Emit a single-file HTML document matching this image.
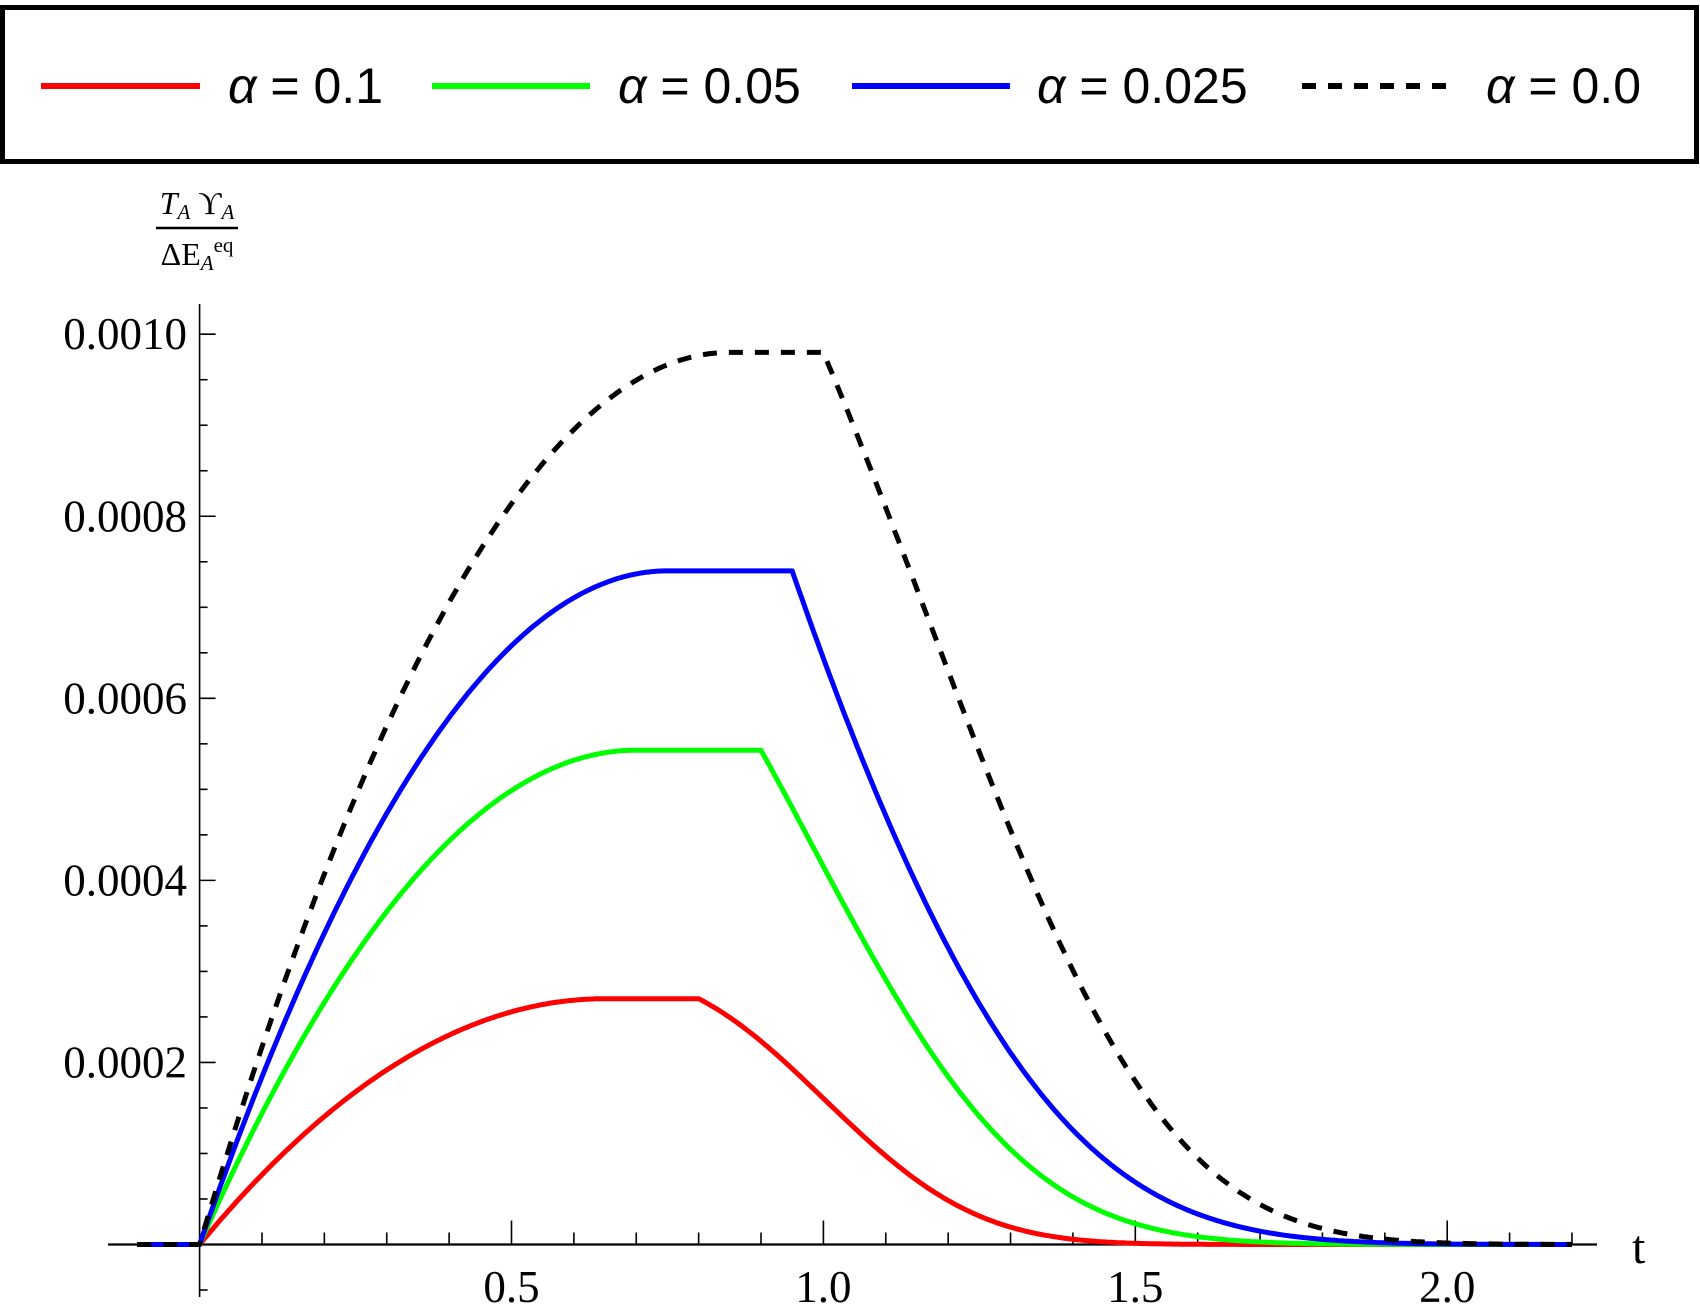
<!DOCTYPE html>
<html><head><meta charset="utf-8"><style>
html,body{margin:0;padding:0;background:#fff;}
svg{display:block;}
</style></head><body>
<svg id="s" width="1700" height="1315" viewBox="0 0 1700 1315" xmlns="http://www.w3.org/2000/svg">
<rect x="2.5" y="7.5" width="1694" height="154" fill="none" stroke="#000" stroke-width="5"/>
<g font-family="Liberation Sans, sans-serif" font-size="50">
<line x1="41" y1="86" x2="200" y2="86" stroke="#f00" stroke-width="6"/>
<text x="228" y="103"><tspan font-style="italic">α</tspan> = 0.1</text>
<line x1="432" y1="86" x2="590" y2="86" stroke="#0f0" stroke-width="6"/>
<text x="618" y="103"><tspan font-style="italic">α</tspan> = 0.05</text>
<line x1="852" y1="86" x2="1010" y2="86" stroke="#00f" stroke-width="6"/>
<text x="1037" y="103"><tspan font-style="italic">α</tspan> = 0.025</text>
<line x1="1302" y1="86" x2="1446" y2="86" stroke="#000" stroke-width="6" stroke-dasharray="14,12"/>
<text x="1486" y="103"><tspan font-style="italic">α</tspan> = 0.0</text>
</g>
<g font-family="Liberation Serif, serif" font-size="32" text-anchor="middle">
<text x="197" y="214"><tspan font-style="italic">T</tspan><tspan font-style="italic" font-size="21" dy="5">A</tspan><tspan dy="-5"> ϒ</tspan><tspan font-style="italic" font-size="21" dy="5">A</tspan></text>
<line x1="156" y1="228" x2="238" y2="228" stroke="#000" stroke-width="2.5"/>
<text x="197" y="265">ΔE<tspan font-style="italic" font-size="21" dy="5">A</tspan><tspan font-size="21" dy="-18">eq</tspan></text>
</g>
<g id="axes" stroke="#000" stroke-width="1.6"></g>
<g id="labels" font-family="Liberation Serif, serif" font-size="45"></g>
<g id="curves" fill="none" stroke-width="5" stroke-linejoin="round"></g>
<text x="1632" y="1263" font-family="Liberation Serif, serif" font-size="48">t</text>
</svg>
<script>
var X=function(t){return 199.6+623.8*t;};
var Y=function(v){return 1244.5-910300*v;};
var ax=document.getElementById('axes'),lb=document.getElementById('labels'),cv=document.getElementById('curves');
var h='';
h+='<line x1="108" y1="1244.5" x2="1597" y2="1244.5" stroke-width="2.2"/>';
h+='<line x1="199.6" y1="304" x2="199.6" y2="1297"/>';
for(var i=1;i<=22;i++){var x=X(i/10);var L=(i%5==0)?24:12;h+='<line x1="'+x+'" y1="1244.5" x2="'+x+'" y2="'+(1244.5-L)+'"/>';}
for(var j=-1;j<=20;j++){if(j==0)continue;var y=Y(j*0.00005);var L=(j%4==0)?16:8;h+='<line x1="199.6" y1="'+y+'" x2="'+(199.6+L)+'" y2="'+y+'"/>';}
ax.innerHTML=h;
var l='';
['0.0002','0.0004','0.0006','0.0008','0.0010'].forEach(function(s,k){l+='<text x="187" y="'+(Y((k+1)*0.0002)+15)+'" text-anchor="end">'+s+'</text>';});
['0.5','1.0','1.5','2.0'].forEach(function(s,k){l+='<text x="'+X((k+1)*0.5)+'" y="1302" text-anchor="middle">'+s+'</text>';});
lb.innerHTML=l;
var C=[
 {c:'#000',P:0.00098,T:0.85,tp:1.0,a:1.67,b:2.2,cc:2.5,d:'14,12'},
 {c:'#f00',P:0.00027,T:0.65,tp:0.8,a:1.3,b:5.5,cc:5},
 {c:'#0f0',P:0.000543,T:0.7,tp:0.9,a:2.28,b:3.8,cc:2},
 {c:'#00f',P:0.00074,T:0.75,tp:0.95,a:2.68,b:1.9,cc:2}
];
var order=[1,2,3,0];var out='';
order.forEach(function(k){var c=C[k];var p='M'+X(-0.1)+','+Y(0);
 for(var t=0;t<=2.2001;t+=0.005){var v;
  if(t<c.T){var u=1-t/c.T;v=c.P*(1-u*u);}else if(t<=c.tp){v=c.P;}else{var dt=t-c.tp;v=c.P*Math.exp(-c.a*dt-c.b*dt*dt-c.cc*dt*dt*dt);}
  p+=' L'+X(t).toFixed(1)+','+Y(v).toFixed(1);}
 out+='<path d="'+p+'" stroke="'+c.c+'"'+(c.d?' stroke-dasharray="'+c.d+'"':'')+'/>';});
cv.innerHTML=out;
</script>
</body></html>
